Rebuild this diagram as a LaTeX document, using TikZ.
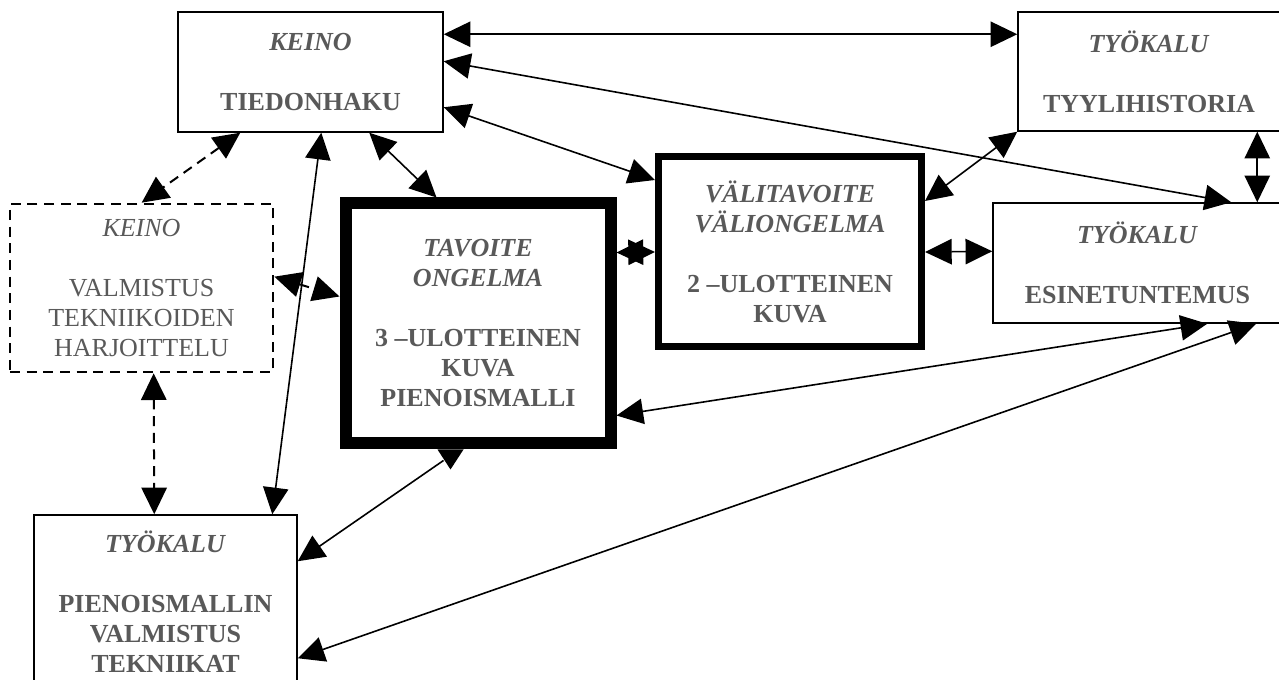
\documentclass[tikz,border=0pt]{standalone}
\usepackage{fontspec}
\setmainfont{Liberation Serif}
\usetikzlibrary{arrows.meta,calc}
\definecolor{tg}{RGB}{89,89,89}
\tikzset{
  box/.style={draw, line width=1.1pt, rectangle, inner sep=0pt, align=center, text=tg,
    font=\fontsize{19.5pt}{22.5pt}\selectfont},
  dbox/.style={box, line width=2pt, dash pattern=on 7.5pt off 5pt},
  bi/.style={{Triangle[length=20pt,width=19pt]}-{Triangle[length=20pt,width=19pt]}, line width=1.2pt},
  dbi/.style={bi, line width=1.5pt, dash pattern=on 7.5pt off 5pt},
  ta/.style={{Triangle[length=20pt,width=19pt]}-, line width=1.2pt}
}
\begin{document}
\begin{tikzpicture}[x=0.75pt,y=-0.75pt]
\useasboundingbox (0,0) rectangle (1279,680);
\clip (0,0) rectangle (1279,680);
\fill[white] (0,0) rectangle (1279,680);

\node[box, minimum width=198.75pt, minimum height=90pt] (tied) at (310.5,72)
  {\textbf{\textit{KEINO}}\\[22.5pt]\textbf{TIEDONHAKU}};
\node[box, minimum width=196.5pt, minimum height=89.25pt] (tyyl) at (1149,71.5)
  {\textbf{\textit{TYÖKALU}}\\[22.5pt]\textbf{TYYLIHISTORIA}};
\node[box, minimum width=216.75pt, minimum height=90pt] (esin) at (1137.5,263)
  {\textbf{\textit{TYÖKALU}}\\[22.5pt]\textbf{ESINETUNTEMUS}};
\node[dbox, minimum width=197.25pt, minimum height=126pt] (harj) at (141.5,288)
  {\textit{KEINO}\\[22.5pt]VALMISTUS\\TEKNIIKOIDEN\\HARJOITTELU};
\node[box, minimum width=197.25pt, minimum height=130.5pt] (pien) at (165.5,602)
  {\textbf{\textit{TYÖKALU}}\\[22.5pt]\textbf{PIENOISMALLIN}\\\textbf{VALMISTUS}\\\textbf{TEKNIIKAT}};
\node[box, line width=9pt, minimum width=198.75pt, minimum height=180pt] (tav) at (478,323.5)
  {\textbf{\textit{TAVOITE}}\\\textbf{\textit{ONGELMA}}\\[22.5pt]\textbf{3 –ULOTTEINEN}\\\textbf{KUVA}\\\textbf{PIENOISMALLI}};
\node[box, line width=5.25pt, minimum width=197.25pt, minimum height=142.5pt] (vali) at (790,251.5)
  {\textbf{\textit{VÄLITAVOITE}}\\\textbf{\textit{VÄLIONGELMA}}\\[22.5pt]\textbf{2 –ULOTTEINEN}\\\textbf{KUVA}};

% connectors
\draw[bi] ($(tied.north east)+(0,23)$) -- ($(tyyl.north west)+(0,23)$);
\draw[bi] ($(tied.north east)+(0,50)$) -- ($(esin.north west)+(239,0)$);
\draw[bi] ($(tied.north east)+(0,96)$) -- ($(vali.north west)+(0,27)$);
\draw[bi] ($(tied.south west)+(192,0)$) -- ($(tav.north west)+(97,0)$);
\draw[bi] ($(tied.south west)+(144,0)$) -- ($(pien.north west)+(239,0)$);
\draw[dbi] ($(tied.south west)+(63,0)$) -- ($(harj.north west)+(133,0)$);
\draw[dbi] ($(harj.south west)+(145,0)$) -- ($(pien.north west)+(121,0)$);
\draw[dbi] ($(harj.north east)+(0,74)$) -- ($(tav.north west)+(0,99)$);
\draw[bi] ($(tav.north east)+(0,55)$) -- ($(vali.north west)+(0,99)$);
\draw[bi] ($(vali.north east)+(0,99)$) -- ($(esin.north west)+(0,49)$);
\draw[bi] ($(vali.north east)+(0,48)$) -- (tyyl.south west);
\draw[bi] ($(tyyl.south west)+(240,0)$) -- ($(esin.north west)+(265,0)$);
\draw[bi] ($(tav.north east)+(0,218)$) -- ($(esin.south west)+(215,0)$);
\draw[bi] ($(pien.north east)+(0,144)$) -- ($(esin.south west)+(264,0)$);
\draw[ta] ($(pien.north east)+(0,47)$) -- ($(tav.south west)+(104,11)$);
\fill ($(tav.south west)+(98,0)$) -- ($(tav.south west)+(124,0)$) -- ($(tav.south west)+(111,20)$) -- cycle;
\end{tikzpicture}
\end{document}
